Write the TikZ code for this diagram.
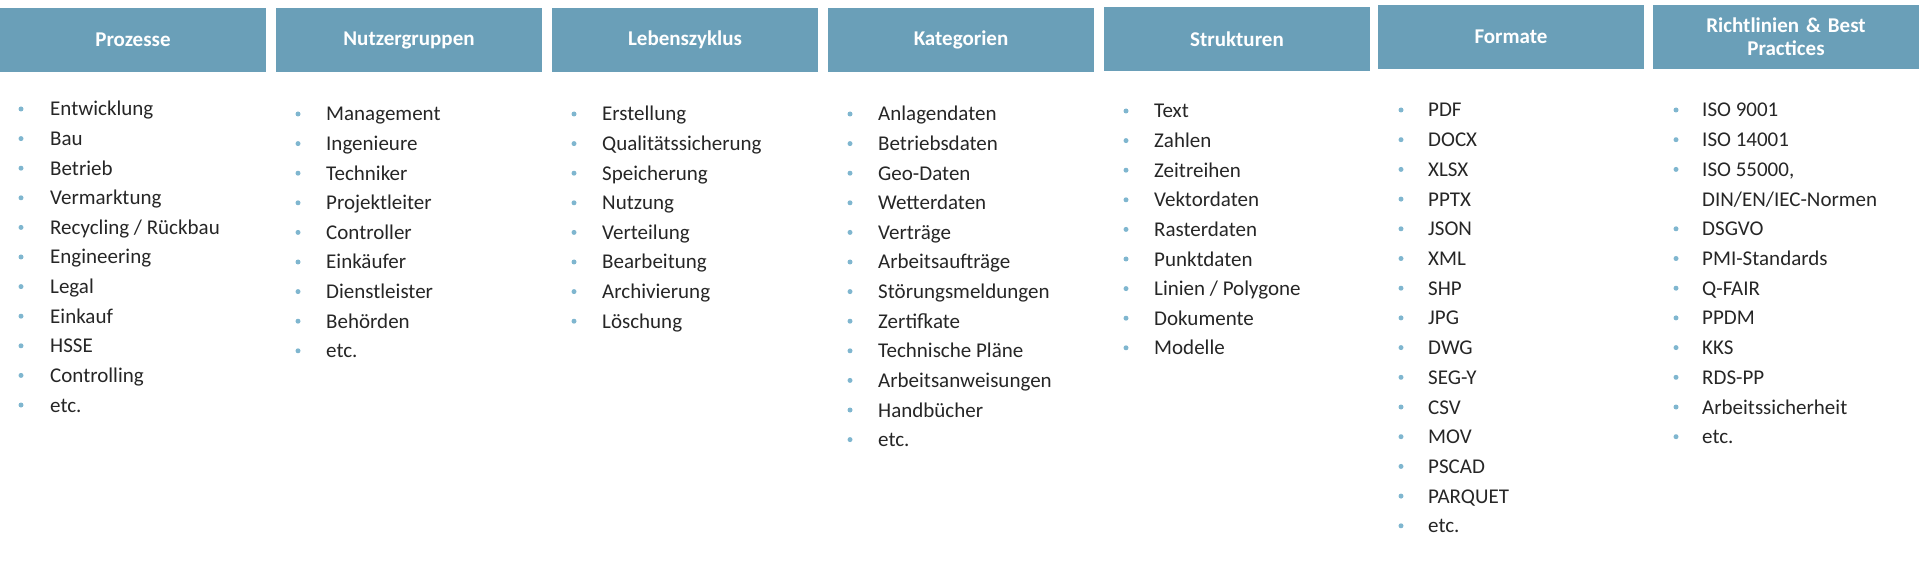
\documentclass[tikz,border=0pt]{standalone}
\usepackage{fontspec}
\setmainfont{Carlito}
\usetikzlibrary{positioning}
\definecolor{headblue}{HTML}{6A9FB8}
\definecolor{dotblue}{HTML}{7FB6CF}
\begin{document}
\begin{tikzpicture}[x=1pt,y=-1pt,
  head/.style={rectangle,fill=headblue,minimum width=266pt,minimum height=64pt,
    text=white,font=\fontsize{21}{23}\selectfont\bfseries,align=center,text width=250pt,inner sep=0pt},
  item/.style={anchor=base west,inner sep=0pt,yshift=-7pt,font=\fontsize{21}{23}\selectfont,text=black!85},
  dot/.style={circle,fill=dotblue,inner sep=0pt,minimum size=5pt}]
\useasboundingbox (0,0) rectangle (1920,588);
\node[head] (h1) at (133,40) {Prozesse};
\node[head] (h2) at (409,40) {Nutzergruppen};
\node[head] (h3) at (685,40) {Lebenszyklus};
\node[head] (h4) at (961,40) {Kategorien};
\node[head] (h5) at (1237,39) {Strukturen};
\node[head] (h6) at (1511,37) {Formate};
\node[head] (h7) at (1786,37) {Richtlinien \& Best\\Practices};
% lists
\foreach \t [count=\i] in {Entwicklung,Bau,Betrieb,Vermarktung,Recycling / Rückbau,Engineering,Legal,Einkauf,HSSE,Controlling,etc.}
  {\node[dot] (d1-\i) at (21,109+29.6*\i-29.6) {};
   \node[item] (c1-\i) at (50,109+29.6*\i-29.6) {\t};}
\foreach \t [count=\i] in {Management,Ingenieure,Techniker,Projektleiter,Controller,Einkäufer,Dienstleister,Behörden,etc.}
  {\node[dot] (d2-\i) at (298,114+29.6*\i-29.6) {};
   \node[item] (c2-\i) at (326,114+29.6*\i-29.6) {\t};}
\foreach \t [count=\i] in {Erstellung,Qualitätssicherung,Speicherung,Nutzung,Verteilung,Bearbeitung,Archivierung,Löschung}
  {\node[dot] (d3-\i) at (574,114+29.6*\i-29.6) {};
   \node[item] (c3-\i) at (602,114+29.6*\i-29.6) {\t};}
\foreach \t [count=\i] in {Anlagendaten,Betriebsdaten,Geo-Daten,Wetterdaten,Verträge,Arbeitsaufträge,Störungsmeldungen,Zertifkate,Technische Pläne,Arbeitsanweisungen,Handbücher,etc.}
  {\node[dot] (d4-\i) at (850,114+29.6*\i-29.6) {};
   \node[item] (c4-\i) at (878,114+29.6*\i-29.6) {\t};}
\foreach \t [count=\i] in {Text,Zahlen,Zeitreihen,Vektordaten,Rasterdaten,Punktdaten,Linien / Polygone,Dokumente,Modelle}
  {\node[dot] (d5-\i) at (1126,111+29.6*\i-29.6) {};
   \node[item] (c5-\i) at (1154,111+29.6*\i-29.6) {\t};}
\foreach \t [count=\i] in {PDF,DOCX,XLSX,PPTX,JSON,XML,SHP,JPG,DWG,SEG-Y,CSV,MOV,PSCAD,PARQUET,etc.}
  {\node[dot] (d6-\i) at (1401,110+29.7*\i-29.7) {};
   \node[item] (c6-\i) at (1428,110+29.7*\i-29.7) {\t};}
\foreach \t/\y [count=\i] in {ISO 9001/0,ISO 14001/1,{ISO 55000,}/2,DSGVO/4,PMI-Standards/5,Q-FAIR/6,PPDM/7,KKS/8,RDS-PP/9,Arbeitssicherheit/10,etc./11}
  {\node[dot] (d7-\i) at (1676,110+29.7*\y) {};
   \node[item] (c7-\i) at (1702,110+29.7*\y) {\t};}
\node[item] (c7-x) at (1702,110+29.7*3) {DIN/EN/IEC-Normen};
\end{tikzpicture}
\end{document}
